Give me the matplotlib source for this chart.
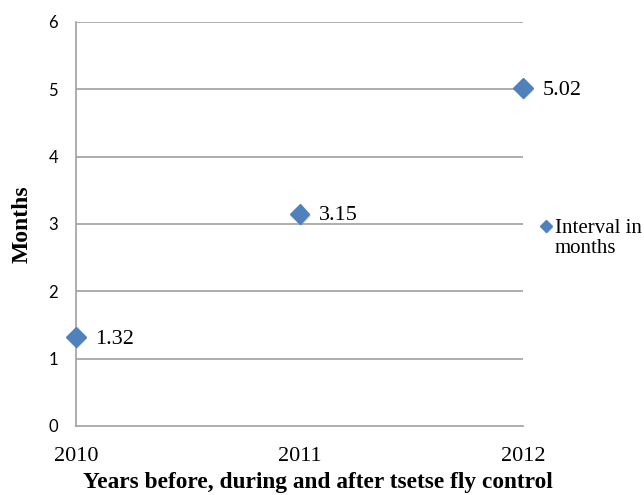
import matplotlib.pyplot as plt
import matplotlib.patheffects as pe

# Interval (months) per year
years = [2010, 2011, 2012]
months = [1.32, 3.15, 5.02]
yticks = [0, 1, 2, 3, 4, 5, 6]
series_name = "Interval in\nmonths"

blue = "#4F81BD"
grid = "#A0A0A0"
serif = "Liberation Serif"

fig = plt.figure(figsize=(6.44, 4.95), dpi=100)
ax = fig.add_axes([76 / 644, 1 - 426 / 495, (523 - 76) / 644, (426 - 22) / 495])

for y in yticks[1:]:
    ax.axhline(y, color=grid, lw=1.2, zorder=1)

shadow = [pe.SimplePatchShadow(offset=(1, -1.5), shadow_rgbFace="gray", alpha=0.3), pe.Normal()]
ax.plot(years, months, ls="none", marker="D", ms=10, color=blue,
        clip_on=False, zorder=3, path_effects=shadow)

for x, v in zip(years, months):
    ax.annotate(f"{v:.2f}", (x, v), xytext=(14, -1.5), textcoords="offset points",
                va="center", ha="left", family=serif, fontsize=16)

ax.set_xlim(2010, 2012)
ax.set_ylim(0, 6)
ax.set_xticks(years)
ax.set_yticks(yticks)
ax.set_xticklabels([str(y) for y in years], family=serif, fontsize=16)
ax.set_yticklabels([str(y) for y in yticks], family="Lato", fontsize=12)
ax.tick_params(length=0)
ax.tick_params(axis="x", pad=15)
ax.tick_params(axis="y", pad=13)

for s in ["top", "right"]:
    ax.spines[s].set_visible(False)
for s in ["left", "bottom"]:
    ax.spines[s].set_color(grid)
    ax.spines[s].set_linewidth(1.2)

ax.set_xlabel("Years before, during and after tsetse fly control",
              family=serif, fontweight="bold", fontsize=16.8)
ax.xaxis.set_label_coords(0.5414, -0.114)
ax.set_ylabel("Months", family=serif, fontweight="bold", fontsize=17, labelpad=11)

# legend entry: marker beside the first line of the series name
ax.plot([1.0515], [0.495], transform=ax.transAxes, ls="none", marker="D", ms=6,
        color=blue, clip_on=False, path_effects=shadow)
ax.text(1.0716, 0.464, series_name, transform=ax.transAxes, va="center", ha="left",
        family=serif, fontsize=15, linespacing=1.05)

fig.savefig("out.png", dpi=100)
